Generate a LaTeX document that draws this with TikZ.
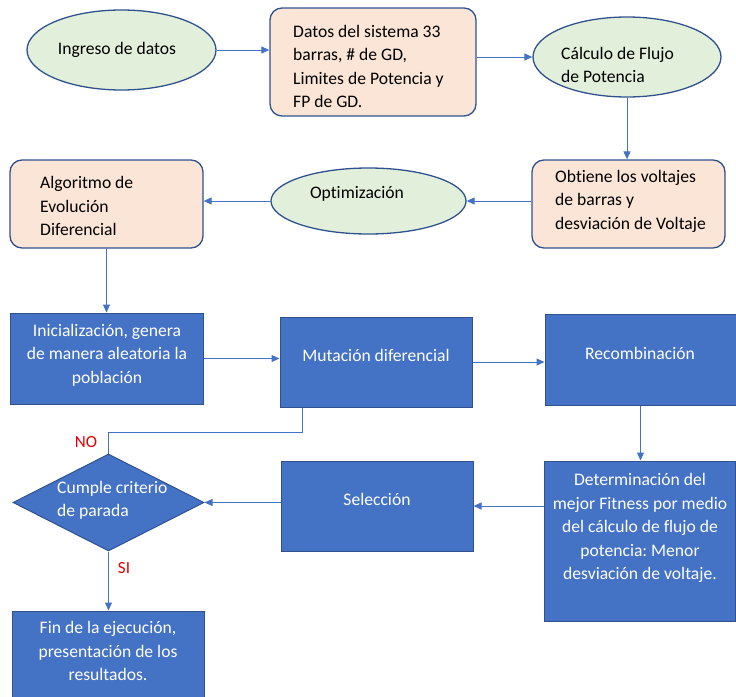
\documentclass[tikz,border=0pt]{standalone}
\usepackage{fontspec}
\setmainfont{Carlito}[Ligatures=NoCommon]
\usetikzlibrary{shapes.geometric,arrows.meta}
\definecolor{edgeblue}{HTML}{2F528F}
\definecolor{fillblue}{HTML}{4472C4}
\definecolor{linkblue}{HTML}{4472C4}
\definecolor{peach}{HTML}{FBE5D6}
\definecolor{mint}{HTML}{E2EFDA}
\definecolor{flagred}{HTML}{E00000}
\frenchspacing

\begin{document}
\begin{tikzpicture}[x=1pt,y=-1pt,
  oval/.style={ellipse, draw=edgeblue, line width=1.3pt, fill=mint, inner sep=0pt},
  softbox/.style={rectangle, rounded corners=12pt, draw=edgeblue, line width=1.3pt, fill=peach, inner sep=0pt},
  bluebox/.style={rectangle, draw=edgeblue, line width=1pt, fill=fillblue, inner sep=0pt},
  decision/.style={diamond, draw=edgeblue, line width=1pt, fill=fillblue, inner sep=0pt},
  txt/.style={font=\fontsize{17.6}{23.5}\selectfont, inner sep=0pt, text=black},
  wtxt/.style={txt, text=white},
  link/.style={draw=linkblue, line width=1pt, -{Triangle[length=8pt,width=7pt]}},
  plainlink/.style={draw=linkblue, line width=1pt},
  flag/.style={font=\fontsize{17}{20}\selectfont, text=flagred, inner sep=0pt}]

\useasboundingbox (0,0) rectangle (736,696);

% shapes
\node[oval, minimum width=189pt, minimum height=80pt] (ingreso) at (121.5,50) {};
\node[softbox, minimum width=206pt, minimum height=108pt] (datos) at (373,62) {};
\node[oval, minimum width=188pt, minimum height=80pt] (calculo) at (627,57) {};
\node[softbox, minimum width=193pt, minimum height=88pt] (obtiene) at (628.5,204) {};
\node[oval, minimum width=195pt, minimum height=66pt] (optim) at (368.5,201) {};
\node[softbox, minimum width=193pt, minimum height=88pt] (algo) at (106.5,204) {};
\node[bluebox, minimum width=193pt, minimum height=91pt] (inic) at (106.5,358.5) {};
\node[bluebox, minimum width=192pt, minimum height=90pt] (mut) at (376,362) {};
\node[bluebox, minimum width=191pt, minimum height=91pt] (recomb) at (640.5,359.5) {};
\node[bluebox, minimum width=191pt, minimum height=160pt] (det) at (639.5,541) {};
\node[bluebox, minimum width=192pt, minimum height=90pt] (sel) at (377,506) {};
\node[decision, minimum width=191pt, minimum height=97pt] (dia) at (108.5,502.5) {};
\node[bluebox, minimum width=192pt, minimum height=87pt] (fin) at (108,654.5) {};

% connectors
\draw[link] (ingreso.east) -- (ingreso.east -| datos.west);
\draw[link] (calculo.west -| datos.east) -- (calculo.west);
\draw[link] (calculo.south) -- (calculo.south |- obtiene.north);
\draw[link] (optim.east -| obtiene.west) -- (optim.east);
\draw[link] (optim.west) -- (optim.west -| algo.east);
\draw[link] (algo.south) -- (algo.south |- inic.north);
\draw[link] (inic.east) -- (inic.east -| mut.west);
\draw[link] (mut.east) -- (mut.east -| recomb.west);
\draw[link] (recomb.south) -- (recomb.south |- det.north);
\draw[link] (sel.east -| det.west) -- (sel.east);
\draw[link] (dia.east -| sel.west) -- (dia.east);
\draw[link] (dia.south) -- (dia.south |- fin.north);
\coordinate (loop) at (302,432);
\draw[plainlink] (dia.north) |- (loop) -- (loop |- mut.south);

% texts
\node[txt] (ingreso-t) at (117,50) {Ingreso de datos};
\node[txt, anchor=west, align=left] (datos-t) at (293,66.5)
  {Datos del sistema 33\\barras, \# de GD,\\Limites de Potencia y\\FP de GD.};
\node[txt, anchor=west, align=left] (calculo-t) at (561,65) {Cálculo de Flujo\\de Potencia};
\node[txt, anchor=west, align=left] (obtiene-t) at (555,201)
  {Obtiene los voltajes\\de barras y\\desviación de Voltaje};
\node[txt] (optim-t) at (357,194) {Optimización};
\node[txt, anchor=west, align=left] (algo-t) at (40,206) {Algoritmo de\\Evolución\\Diferencial};
\node[wtxt, align=center] (inic-t) at (107,355)
  {Inicialización, genera\\de manera aleatoria la\\población};
\node[wtxt] (mut-t) at (376,355) {Mutación diferencial};
\node[wtxt] (recomb-t) at (640,353) {Recombinación};
\node[wtxt, align=center] (det-t) at (640,528)
  {Determinación del\\mejor Fitness por medio\\del cálculo de flujo de\\potencia: Menor\\desviación de voltaje.};
\node[wtxt] (sel-t) at (377,499) {Selección};
\node[wtxt, anchor=west, align=left] (dia-t) at (57,500.5) {Cumple criterio\\de parada};
\node[wtxt, align=center] (fin-t) at (108,651)
  {Fin de la ejecución,\\presentación de los\\resultados.};
\node[flag] (no-t) at (86,442) {NO};
\node[flag] (si-t) at (124,568) {SI};
\end{tikzpicture}
\end{document}
